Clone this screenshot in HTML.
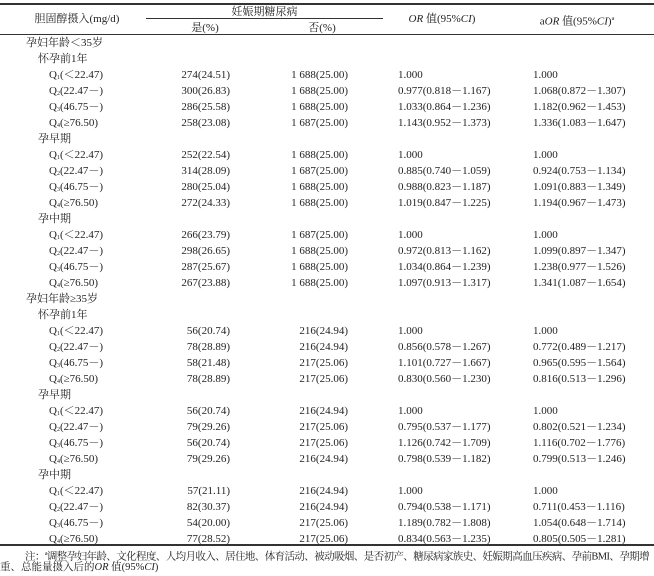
<!DOCTYPE html>
<html><head><meta charset="utf-8">
<style>
body{margin:0;background:#fff;}
#t{position:relative;width:654px;height:576px;overflow:hidden;font-family:"Liberation Serif","Noto Serif CJK SC",serif;font-size:11px;color:#222;}
#t div{position:absolute;white-space:nowrap;line-height:12px;}
.ln{background:#333;height:1px;}
.r{text-align:right;}
.c{text-align:center;}
sub{font-size:6px;vertical-align:-1px;}
</style></head><body>
<div id="t">
<div class="ln" style="left:0;top:3px;width:654px;height:1.5px"></div>
<div class="c" style="left:17px;top:13px;width:120px">胆固醇摄入(mg/d)</div>
<div class="c" style="left:146px;top:6px;width:237px">妊娠期糖尿病</div>
<div class="ln" style="left:146px;top:18px;width:237px;height:1px"></div>
<div class="c" style="left:175px;top:22px;width:60px">是(%)</div>
<div class="c" style="left:292px;top:22px;width:60px">否(%)</div>
<div class="c" style="left:387px;top:13px;width:110px"><i>OR</i> 值(95%<i>CI</i>)</div>
<div class="c" style="left:519px;top:13px;width:116px">a<i>OR</i> 值(95%<i>CI</i>)<sup style="font-size:6px">a</sup></div>
<div class="ln" style="left:0;top:34px;width:654px"></div>
<div class="ln" style="left:0;top:544px;width:654px;height:1.5px"></div>
<div style="left:25px;top:548px;font-size:10.5px;letter-spacing:-0.6px">注：<sup style="font-size:6px">a</sup>调整孕妇年龄、文化程度、人均月收入、居住地、体育活动、被动吸烟、是否初产、糖尿病家族史、妊娠期高血压疾病、孕前BMI、孕期增</div>
<div style="left:0;top:562px;font-size:10.5px">重、总能量摄入后的<i>OR</i> 值(95%<i>CI</i>)</div>
</div>
<script>
const labels=["孕妇年龄＜35岁","怀孕前1年","Q1","Q2","Q3","Q4","孕早期","Q1","Q2","Q3","Q4","孕中期","Q1","Q2","Q3","Q4","孕妇年龄≥35岁","怀孕前1年","Q1","Q2","Q3","Q4","孕早期","Q1","Q2","Q3","Q4","孕中期","Q1","Q2","Q3","Q4"];
const qText=["(＜22.47)","(22.47－)","(46.75－)","(≥76.50)"];
const yesVals=["","","274(24.51)","300(26.83)","286(25.58)","258(23.08)","","252(22.54)","314(28.09)","280(25.04)","272(24.33)","","266(23.79)","298(26.65)","287(25.67)","267(23.88)","","","56(20.74)","78(28.89)","58(21.48)","78(28.89)","","56(20.74)","79(29.26)","56(20.74)","79(29.26)","","57(21.11)","82(30.37)","54(20.00)","77(28.52)"];
const noVals=["","","1 688(25.00)","1 688(25.00)","1 688(25.00)","1 687(25.00)","","1 688(25.00)","1 687(25.00)","1 688(25.00)","1 688(25.00)","","1 687(25.00)","1 688(25.00)","1 688(25.00)","1 688(25.00)","","","216(24.94)","216(24.94)","217(25.06)","217(25.06)","","216(24.94)","217(25.06)","217(25.06)","216(24.94)","","216(24.94)","216(24.94)","217(25.06)","217(25.06)"];
const orVals=["","","1.000","0.977(0.818－1.167)","1.033(0.864－1.236)","1.143(0.952－1.373)","","1.000","0.885(0.740－1.059)","0.988(0.823－1.187)","1.019(0.847－1.225)","","1.000","0.972(0.813－1.162)","1.034(0.864－1.239)","1.097(0.913－1.317)","","","1.000","0.856(0.578－1.267)","1.101(0.727－1.667)","0.830(0.560－1.230)","","1.000","0.795(0.537－1.177)","1.126(0.742－1.709)","0.798(0.539－1.182)","","1.000","0.794(0.538－1.171)","1.189(0.782－1.808)","0.834(0.563－1.235)"];
const aorVals=["","","1.000","1.068(0.872－1.307)","1.182(0.962－1.453)","1.336(1.083－1.647)","","1.000","0.924(0.753－1.134)","1.091(0.883－1.349)","1.194(0.967－1.473)","","1.000","1.099(0.897－1.347)","1.238(0.977－1.526)","1.341(1.087－1.654)","","","1.000","0.772(0.489－1.217)","0.965(0.595－1.564)","0.816(0.513－1.296)","","1.000","0.802(0.521－1.234)","1.116(0.702－1.776)","0.799(0.513－1.246)","","1.000","0.711(0.453－1.116)","1.054(0.648－1.714)","0.805(0.505－1.281)"];
const t=document.getElementById('t');
function cell(txt,left,top,cls,w){const d=document.createElement('div');d.innerHTML=txt;d.style.left=left+'px';d.style.top=top+'px';if(cls){d.className=cls;}if(w){d.style.width=w+'px';}t.appendChild(d);return d;}
labels.forEach((lab,i)=>{
  const y=43+16*i-6;
  let d;
  if(lab[0]==='Q'){
    const q=parseInt(lab[1]);
    d=cell('Q<sub>'+q+'</sub>'+qText[q-1],49,y);
    
    
  } else if(lab.indexOf('孕妇年龄')===0){
    d=cell(lab,26,y);
    
    
  } else {
    d=cell(lab,38,y);
    
    
  }
  if(yesVals[i]){
    d=cell(yesVals[i],130,y,'r',100);
    
    
    d=cell(noVals[i],248,y,'r',100);
    
    
    d=cell(orVals[i],398,y);
    
    
    d=cell(aorVals[i],533,y);
    
    
  }
});
</script>
</body></html>
